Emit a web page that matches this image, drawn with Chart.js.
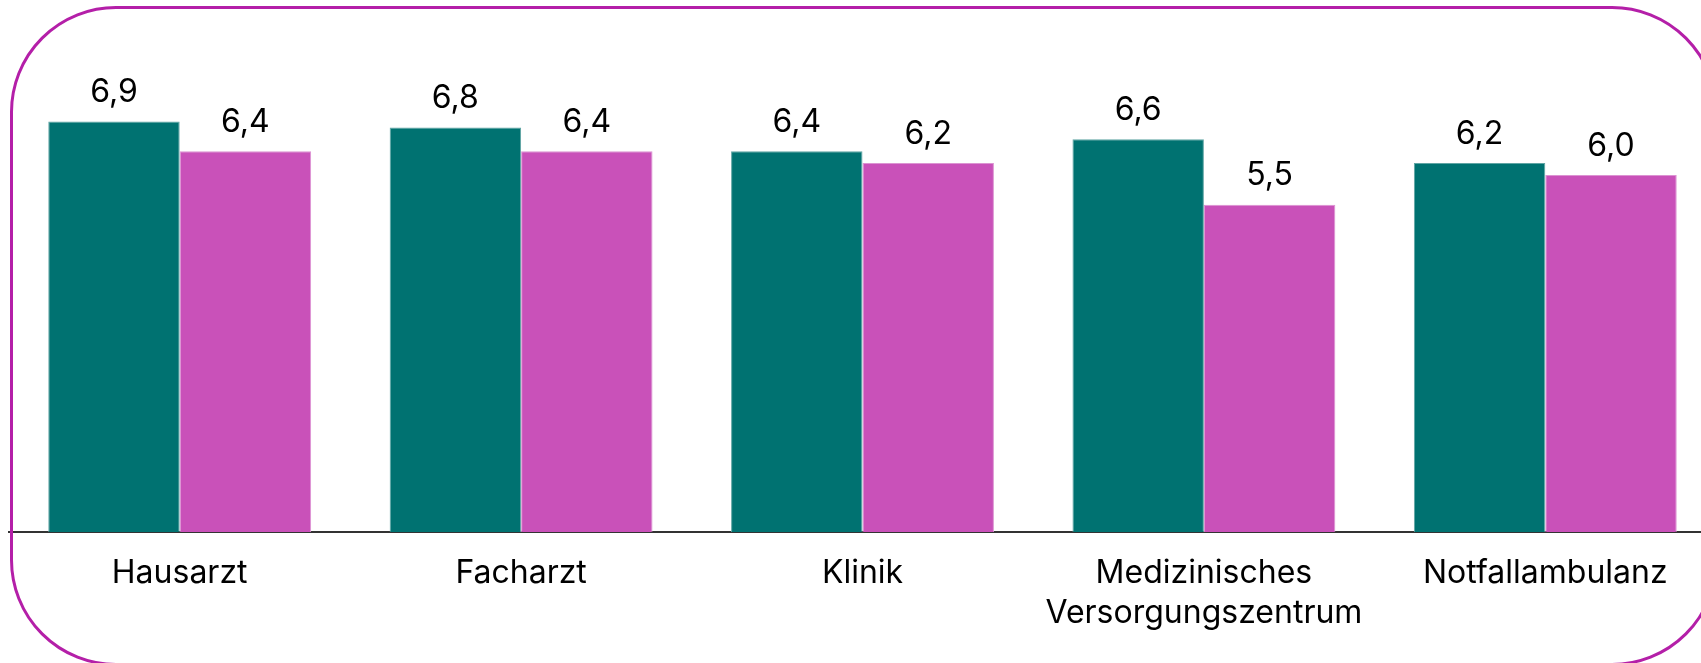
<!DOCTYPE html>
<html lang="de">
<head>
<meta charset="utf-8">
<title>Wartezeit nach Versorgungsart</title>
<script src="https://cdn.jsdelivr.net/npm/chart.js@4.4.1/dist/chart.umd.min.js"></script>
<style>
    html, body { margin: 0; padding: 0; background: #fff; overflow: hidden; }
    #wrap { position: relative; width: 1720px; height: 663px; }
    #rahmen {
        position: absolute; left: 10px; top: 6px; width: 1708px; height: 660px;
        border: 3px solid #b41fa8; border-radius: 106px; box-sizing: border-box;
        pointer-events: none;
    }
    canvas { display: block; }
</style>
</head>
<body>
<div id="wrap">
    <canvas id="grafik" width="1720" height="663"></canvas>
    <div id="rahmen"></div>
</div>
<script>
// Kategorien und Werte
const kategorien = [
    "Hausarzt",
    "Facharzt",
    "Klinik",
    ["Medizinisches", "Versorgungszentrum"],
    "Notfallambulanz"
];
const serieA = [6.9, 6.8, 6.4, 6.6, 6.2];
const serieB = [6.4, 6.4, 6.2, 5.5, 6.0];

const farbeA = "#007271";
const farbeB = "#c951b9";

// Werte über den Balken schreiben (deutsches Komma)
const wertBeschriftung = {
    id: "wertBeschriftung",
    afterDatasetsDraw(chart) {
        const ctx = chart.ctx;
        ctx.save();
        ctx.font = "32px Inter, 'Noto Sans', sans-serif";
        ctx.fillStyle = "#000";
        ctx.textAlign = "center";
        ctx.textBaseline = "alphabetic";
        chart.data.datasets.forEach((ds, i) => {
            chart.getDatasetMeta(i).data.forEach((bar, j) => {
                const text = ds.data[j].toFixed(1).replace(".", ",");
                ctx.fillText(text, bar.x, bar.y - 19.5);
            });
        });
        ctx.restore();
    }
};

const ctx = document.getElementById("grafik").getContext("2d");
new Chart(ctx, {
    type: "bar",
    data: {
        labels: kategorien,
        datasets: [
            {
                label: "A",
                data: serieA,
                backgroundColor: farbeA,
                borderColor: "#5fa5a4",
                borderWidth: 1,
                categoryPercentage: 0.77,
                barPercentage: 1.0
            },
            {
                label: "B",
                data: serieB,
                backgroundColor: farbeB,
                borderColor: "#dc93d2",
                borderWidth: 1,
                categoryPercentage: 0.77,
                barPercentage: 1.0
            }
        ]
    },
    options: {
        responsive: false,
        animation: false,
        layout: { padding: { left: 9, right: 4, top: 56, bottom: 0 } },
        plugins: {
            legend: { display: false },
            tooltip: { enabled: false }
        },
        scales: {
            x: {
                grid: { display: false, drawTicks: false },
                border: { display: true, color: "#333", width: 2 },
                ticks: {
                    color: "#000",
                    padding: 22,
                    maxRotation: 0,
                    autoSkip: false,
                    font: { family: "Inter, 'Noto Sans', sans-serif", size: 32, lineHeight: 1.23 }
                },
                afterFit(scale) { scale.height = 131; }
            },
            y: {
                display: false,
                min: 0,
                max: 8
            }
        }
    },
    plugins: [wertBeschriftung]
});
</script>
</body>
</html>
